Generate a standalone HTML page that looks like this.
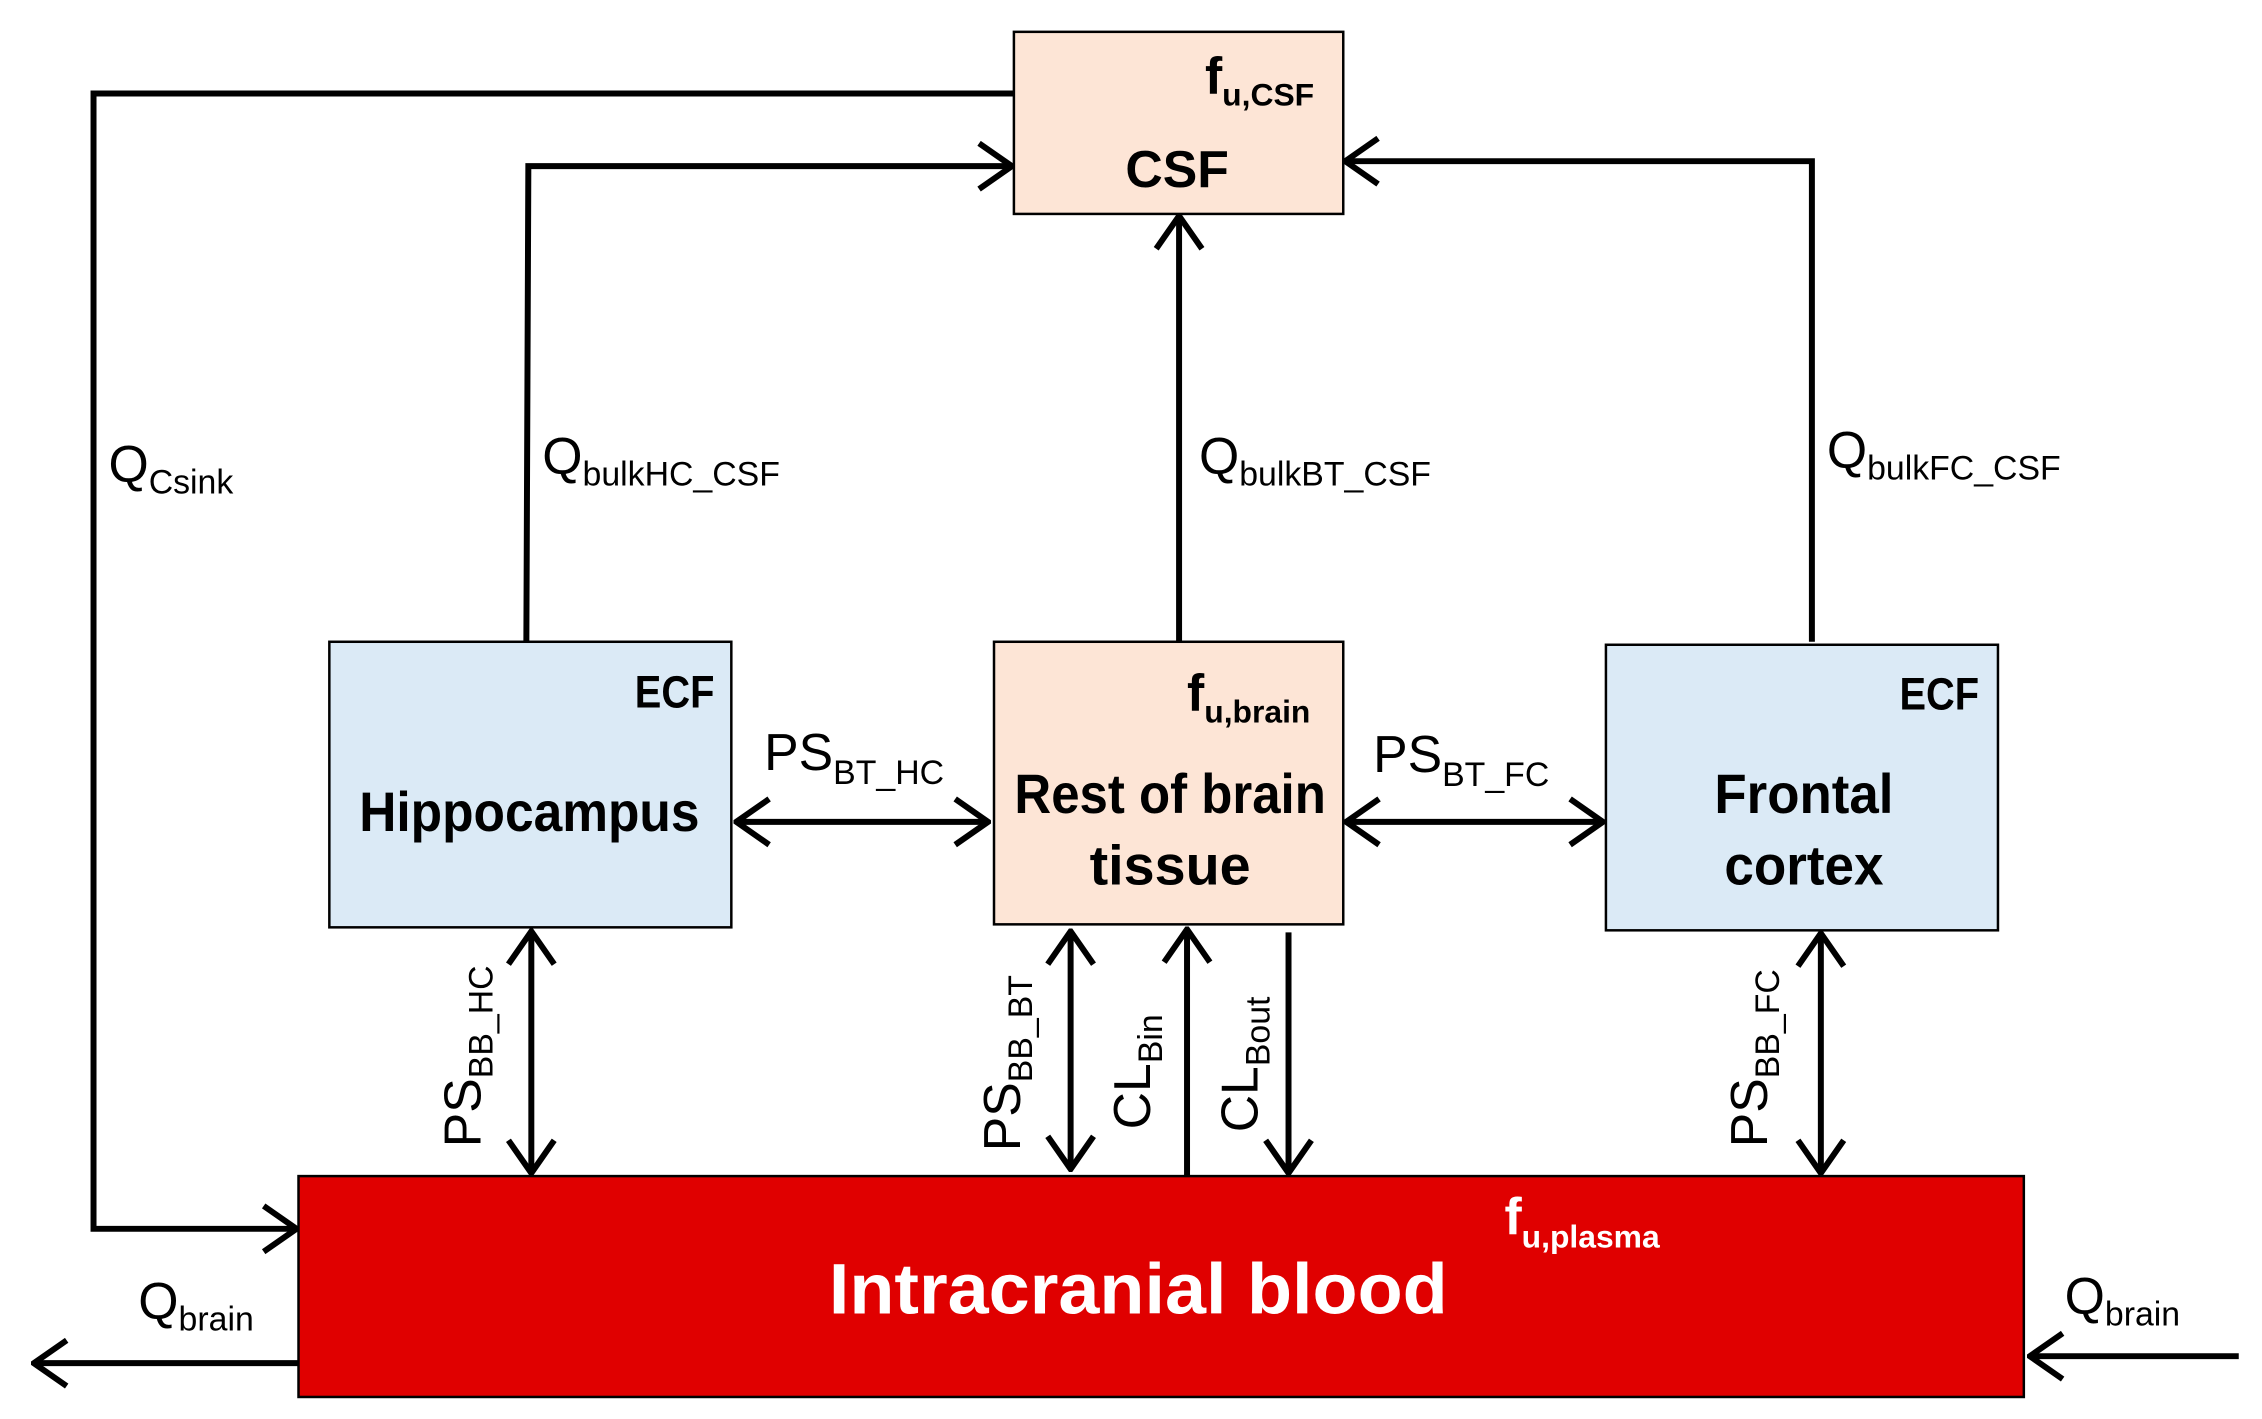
<!DOCTYPE html>
<html><head><meta charset="utf-8"><style>html,body{margin:0;padding:0;background:#fff}svg{display:block}</style></head>
<body>
<svg width="2262" height="1419" viewBox="0 0 2262 1419" xmlns="http://www.w3.org/2000/svg" font-family="Liberation Sans, sans-serif">
<defs>
<marker id="a" viewBox="0 0 40 52" refX="37" refY="26" markerWidth="40" markerHeight="52" markerUnits="userSpaceOnUse" orient="auto-start-reverse">
<path d="M4,3 L37,26 L4,49" fill="none" stroke="#000" stroke-width="6"/>
</marker>
</defs>
<g transform="scale(0.995)">
<rect x="1019" y="32" width="331" height="183" fill="#fde5d6" stroke="#000" stroke-width="2.5"/>
<rect x="331" y="645" width="404" height="287" fill="#dbeaf6" stroke="#000" stroke-width="2.5"/>
<rect x="999" y="645" width="351" height="284" fill="#fde5d6" stroke="#000" stroke-width="2.5"/>
<rect x="1614" y="648" width="394" height="287" fill="#dbeaf6" stroke="#000" stroke-width="2.5"/>
<rect x="300" y="1182" width="1734" height="222" fill="#e00000" stroke="#000" stroke-width="2.5"/>
<g fill="none" stroke="#000" stroke-width="6">
<path d="M1019,94 L94,94 L94,1235 L298,1235" marker-end="url(#a)"/>
<path d="M529,645 L531,167 L1017,167" marker-end="url(#a)"/>
<path d="M1185,645 L1185,217" marker-end="url(#a)"/>
<path d="M1821,645 L1821,162 L1352,162" marker-end="url(#a)"/>
<path d="M740,826 L993,826" marker-start="url(#a)" marker-end="url(#a)"/>
<path d="M1353,826 L1611,826" marker-start="url(#a)" marker-end="url(#a)"/>
<path d="M534,936 L534,1179" marker-start="url(#a)" marker-end="url(#a)"/>
<path d="M1076,936 L1076,1175" marker-start="url(#a)" marker-end="url(#a)"/>
<path d="M1193,1182 L1193,934" marker-end="url(#a)"/>
<path d="M1295,937 L1295,1179" marker-end="url(#a)"/>
<path d="M1830,938 L1830,1179" marker-start="url(#a)" marker-end="url(#a)"/>
<path d="M300,1370 L34,1370" marker-end="url(#a)"/>
<path d="M2250,1363 L2040,1363" marker-end="url(#a)"/>
</g>
<g font-weight="bold" fill="#000">
<text x="1211" y="94" font-size="52">f<tspan font-size="32" dy="12">u,CSF</tspan></text>
<text x="1183" y="188" font-size="52" text-anchor="middle">CSF</text>
<text x="718" y="711" font-size="46" text-anchor="end" textLength="80" lengthAdjust="spacingAndGlyphs">ECF</text>
<text x="532" y="835" font-size="56" text-anchor="middle" textLength="342" lengthAdjust="spacingAndGlyphs">Hippocampus</text>
<text x="1193" y="714" font-size="52">f<tspan font-size="32" dy="12">u,brain</tspan></text>
<text x="1176" y="817" font-size="56" text-anchor="middle" textLength="313" lengthAdjust="spacingAndGlyphs">Rest of brain</text>
<text x="1176" y="889" font-size="56" text-anchor="middle">tissue</text>
<text x="1989" y="713" font-size="46" text-anchor="end" textLength="80" lengthAdjust="spacingAndGlyphs">ECF</text>
<text x="1813" y="817" font-size="56" text-anchor="middle" textLength="180" lengthAdjust="spacingAndGlyphs">Frontal</text>
<text x="1813" y="889" font-size="56" text-anchor="middle" textLength="160" lengthAdjust="spacingAndGlyphs">cortex</text>
<text x="1512" y="1240" font-size="52" fill="#fff">f<tspan font-size="32" dy="14">u,plasma</tspan></text>
<text x="1144" y="1320" font-size="72" fill="#fff" text-anchor="middle" textLength="622" lengthAdjust="spacingAndGlyphs">Intracranial  blood</text>
</g>
<g fill="#000" font-size="52">
<text x="109" y="484">Q<tspan font-size="34" dy="12">Csink</tspan></text>
<text x="545" y="476">Q<tspan font-size="34" dy="12">bulkHC_CSF</tspan></text>
<text x="1205" y="476">Q<tspan font-size="34" dy="12">bulkBT_CSF</tspan></text>
<text x="1836" y="470">Q<tspan font-size="34" dy="12">bulkFC_CSF</tspan></text>
<text x="768" y="774">PS<tspan font-size="34" dy="14">BT_HC</tspan></text>
<text x="1380" y="776">PS<tspan font-size="34" dy="14">BT_FC</tspan></text>
<text x="139" y="1325">Q<tspan font-size="34" dy="12">brain</tspan></text>
<text x="2075" y="1320">Q<tspan font-size="34" dy="12">brain</tspan></text>
<text transform="translate(483,1153) rotate(-90)">PS<tspan font-size="34" dy="12">BB_HC</tspan></text>
<text transform="translate(1025,1157) rotate(-90)">PS<tspan font-size="34" dy="12">BB_BT</tspan></text>
<text transform="translate(1156,1135) rotate(-90)">CL<tspan font-size="34" dy="12">Bin</tspan></text>
<text transform="translate(1264,1138) rotate(-90)">CL<tspan font-size="34" dy="12">Bout</tspan></text>
<text transform="translate(1776,1153) rotate(-90)">PS<tspan font-size="34" dy="12">BB_FC</tspan></text>
</g>
</g>
</svg>
</body></html>
